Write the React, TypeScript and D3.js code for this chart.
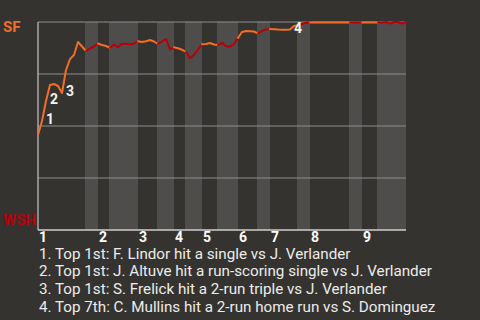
import React from "react";
import * as d3 from "d3";

// SF win probability (%) after each plate appearance
const winProb = [
  45.67, 52.4, 62.02, 69.71, 70.19, 69.23, 65.87, 76.92, 82.21, 84.13, 90.38, 88.22, 86.06,
  87.26, 88.22, 89.66, 88.94, 88.46, 87.64, 89.18, 87.84, 89.57, 89.57, 89.18, 89.66,
  90.77, 90.38, 90.72, 91.35, 90.63, 89.42, 90.63, 91.83, 86.88, 87.84, 87.4, 86.68,
  85.58, 82.55, 84.13, 86.78, 89.28, 89.42, 89.9, 89.18, 88.94, 90.0, 88.37, 88.13,
  89.42, 92.31, 95.19, 95.67, 95.58, 95.43, 94.47, 95.67, 96.39, 96.63, 96.54, 96.39,
  96.3, 96.3, 96.39, 98.08, 98.41, 99.04, 99.62, 99.8, 99.8, 99.8, 99.8, 99.8, 99.8,
  99.8, 99.8, 99.8, 99.8, 99.8, 99.7, 99.7, 99.8, 99.8, 99.8, 99.8, 99.8, 99.7, 100,
  99.3, 100, 100, 99.3, 100, 100,
];

// Plate-appearance index where each half inning begins (last entry = end of game)
const halfInningStarts = [0, 12, 15, 18, 25, 30, 34, 37, 41, 45, 50, 55, 58, 65, 68, 78, 81, 85, 92];

const inningLabels = ["1", "2", "3", "4", "5", "6", "7", "8", "9"];

const teamNames = ["SF", "WSH"];
const teamColors = ["#f26d25", "#b8000a"];

// Key plays: plate-appearance index and description
const eventIndex = [1, 2, 6, 63];
const eventTexts = [
  "Top 1st: F. Lindor hit a single vs J. Verlander",
  "Top 1st: J. Altuve hit a run-scoring single vs J. Verlander",
  "Top 1st: S. Frelick hit a 2-run triple vs J. Verlander",
  "Top 7th: C. Mullins hit a 2-run home run vs S. Dominguez",
];

const gridValues = [25, 50, 75, 100];

const W = 480;
const H = 320;
const margin = { left: 38, right: 74, top: 22, bottom: 90 };
const FONT = "Roboto, 'Noto Sans', sans-serif";

export default function App() {
  const total = halfInningStarts[halfInningStarts.length - 1];
  const x = d3.scaleLinear().domain([0, total]).range([margin.left, W - margin.right]);
  const y = d3.scaleLinear().domain([0, 100]).range([H - margin.bottom, margin.top]);

  const halves = halfInningStarts.slice(0, -1).map((s, k) => ({
    s,
    e: halfInningStarts[k + 1],
    bottom: k % 2 === 1,
  }));

  const segPath = (s: number, e: number) =>
    d3
      .line<number>()
      .x((d) => x(d))
      .y((d) => y(winProb[d]))(d3.range(s, e + 1));

  const x0 = x(0);
  const x1 = x(total);

  return (
    <div style={{ position: "absolute", left: 0, top: 0 }}>
      <svg width={W} height={H} style={{ display: "block", background: "#35332f" }} fontFamily={FONT}>
        {/* bottom-half shading */}
        {halves
          .filter((h) => h.bottom)
          .map((h, i) => (
            <rect
              key={"b" + i}
              x={x(h.s) - 1}
              y={y(100)}
              width={x(h.e) - x(h.s) + 1}
              height={y(0) - y(100)}
              fill="#4e4d4c"
            />
          ))}

        {/* grid */}
        {gridValues.map((v) => (
          <line key={v} x1={x0} x2={x1} y1={y(v)} y2={y(v)} stroke="#8e8e8e" strokeWidth={1} />
        ))}
        <line x1={x0} x2={x0} y1={y(100)} y2={y(0)} stroke="#c4c4c4" strokeWidth={1.2} />
        <line x1={x0} x2={x1} y1={y(0)} y2={y(0)} stroke="#cfcfcf" strokeWidth={1.4} />

        {/* win probability line, coloured by batting team */}
        {halves.map((h, i) => (
          <path
            key={"l" + i}
            d={segPath(h.s, h.e) || ""}
            fill="none"
            stroke={h.bottom ? teamColors[1] : teamColors[0]}
            strokeWidth={2}
            strokeLinejoin="round"
            strokeLinecap="round"
          />
        ))}

        {/* key play markers */}
        {eventIndex.map((idx, i) => (
          <text
            key={"e" + i}
            x={x(idx) + 4}
            y={y(winProb[idx]) + 3}
            fill="#f2f2f2"
            fontSize={14}
            fontWeight="bold"
          >
            {i + 1}
          </text>
        ))}

        {/* team labels */}
        <text x={3} y={32} fill={teamColors[0]} fontSize={15} fontWeight="bold">
          {teamNames[0]}
        </text>
        <text x={3} y={225} fill={teamColors[1]} fontSize={15} fontWeight="bold">
          {teamNames[1]}
        </text>

        {/* inning labels */}
        {inningLabels.map((lab, i) => (
          <text
            key={"i" + i}
            x={x(halfInningStarts[i * 2]) + 1}
            y={y(0) + 12}
            fill="#ffffff"
            fontSize={14}
            fontWeight="bold"
          >
            {lab}
          </text>
        ))}

        {/* play descriptions */}
        {eventTexts.map((t, i) => (
          <text key={"t" + i} x={x0 + 1} y={258.5 + i * 17.8} fill="#ececec" fontSize={15.2}>
            {`${i + 1}. ${t}`}
          </text>
        ))}
      </svg>
    </div>
  );
}
